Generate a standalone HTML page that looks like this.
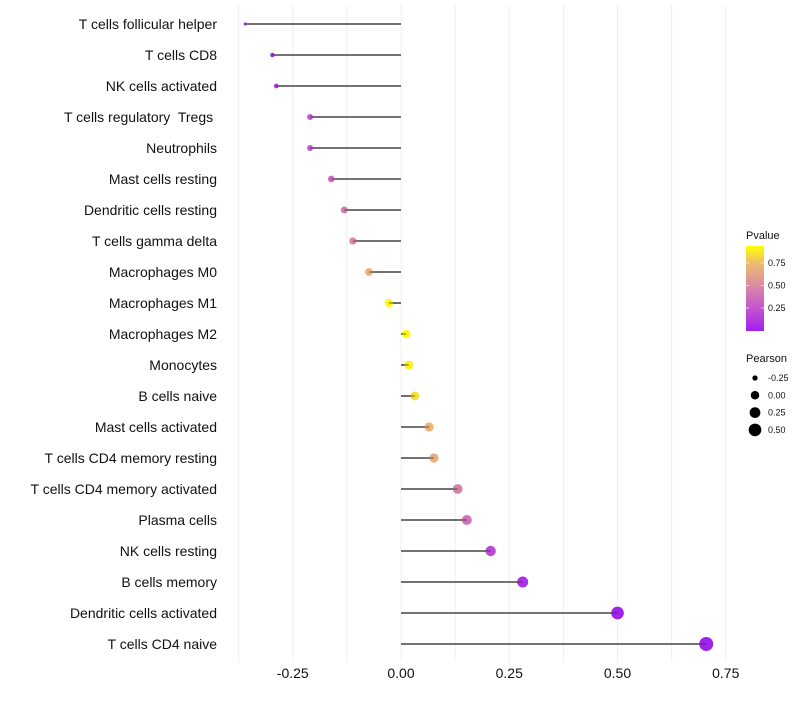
<!DOCTYPE html>
<html><head><meta charset="utf-8"><style>
body{margin:0;background:#fff;font-family:"Liberation Sans",Arial,sans-serif}
text{white-space:pre}
</style></head><body>
<svg id="chart" width="800" height="700" xmlns="http://www.w3.org/2000/svg"></svg>
<script>
const categories=["T cells follicular helper","T cells CD8","NK cells activated","T cells regulatory  Tregs ","Neutrophils","Mast cells resting","Dendritic cells resting","T cells gamma delta","Macrophages M0","Macrophages M1","Macrophages M2","Monocytes","B cells naive","Mast cells activated","T cells CD4 memory resting","T cells CD4 memory activated","Plasma cells","NK cells resting","B cells memory","Dendritic cells activated","T cells CD4 naive"];
const pearson=[-0.36,-0.297,-0.288,-0.21,-0.21,-0.161,-0.131,-0.111,-0.074,-0.028,0.012,0.018,0.032,0.065,0.076,0.131,0.152,0.207,0.281,0.5,0.705];
const pvalue=[0.02,0.05,0.06,0.25,0.25,0.35,0.45,0.5,0.7,0.92,0.93,0.9,0.85,0.72,0.68,0.45,0.38,0.2,0.08,0.01,0.01];
const xTicks=[-0.25,0,0.25,0.5,0.75];
const xTickLabels=["-0.25","0.00","0.25","0.50","0.75"];
const pTicks=[0.25,0.5,0.75];
const sizeLegend=[-0.25,0,0.25,0.5];

const NS="http://www.w3.org/2000/svg";
const svg=document.getElementById('chart');
function el(t,a,p){const e=document.createElementNS(NS,t);for(const k in a)e.setAttribute(k,a[k]);(p||svg).appendChild(e);return e;}
const x=v=>401+v*433;
const y=i=>24+i*31;
const r=v=>Math.sqrt(Math.max(0.8,18.05+43.9*v));
const stops=[[0,[160,32,240]],[0.25,[196,84,208]],[0.5,[218,138,162]],[0.75,[238,188,112]],[0.94,[255,255,0]]];
function col(p){p=Math.max(0,Math.min(0.94,p));for(let i=1;i<stops.length;i++){if(p<=stops[i][0]){const a=stops[i-1],b=stops[i],t=(p-a[0])/(b[0]-a[0]);return 'rgb('+a[1].map((c,j)=>Math.round(c+(b[1][j]-c)*t)).join(',')+')';}}return 'rgb(255,255,0)';}

for(let v=-0.375;v<=0.76;v+=0.125){
 const g=el('line',{x1:x(v),x2:x(v),y1:5,y2:662,stroke:'#efefef','stroke-width':1});
 
}
xTicks.forEach((v,i)=>{
 const t=el('text',{x:x(v),y:678,'text-anchor':'middle','font-size':14,fill:'#111'});t.textContent=xTickLabels[i];
 
});
categories.forEach((c,i)=>{
 const t=el('text',{x:217,y:y(i)+5,'text-anchor':'end','font-size':14,fill:'#111'});t.textContent=c;
 
 const s=el('line',{x1:x(0),x2:x(pearson[i]),y1:y(i),y2:y(i),stroke:'#333','stroke-width':1.3});
 
 const d=el('circle',{cx:x(pearson[i]),cy:y(i),r:r(pearson[i]),fill:col(pvalue[i])});
 
 const s2=el('line',{x1:x(0),x2:x(pearson[i]),y1:y(i),y2:y(i),stroke:'#333','stroke-width':1.3,'stroke-opacity':0.6});
 
});
const lt=el('text',{x:746,y:239,'font-size':11,fill:'#111'});lt.textContent='Pvalue';

const defs=el('defs',{});const lg=el('linearGradient',{id:'pg',x1:0,y1:1,x2:0,y2:0},defs);
stops.forEach(s=>el('stop',{offset:s[0]/0.94,'stop-color':'rgb('+s[1].join(',')+')'},lg));
const bar=el('rect',{x:746,y:246,width:18,height:85,fill:'url(#pg)'});

const py=p=>330.5-p*90;
pTicks.forEach(p=>{
 el('line',{x1:746,x2:749,y1:py(p),y2:py(p),stroke:'#fff','stroke-width':0.6});
 el('line',{x1:761,x2:764,y1:py(p),y2:py(p),stroke:'#fff','stroke-width':0.6});
 const t=el('text',{x:768,y:py(p)+3,'font-size':9,fill:'#111'});t.textContent=p.toFixed(2);
 
});
const st=el('text',{x:746,y:362,'font-size':11,fill:'#111'});st.textContent='Pearson';

sizeLegend.forEach((v,i)=>{
 const cy=378+i*17.3;
 const c=el('circle',{cx:755,cy:cy,r:r(v),fill:'#000'});
 
 const t=el('text',{x:768,y:cy+3,'font-size':9,fill:'#111'});t.textContent=v.toFixed(2);
 
});
</script>
</body></html>
